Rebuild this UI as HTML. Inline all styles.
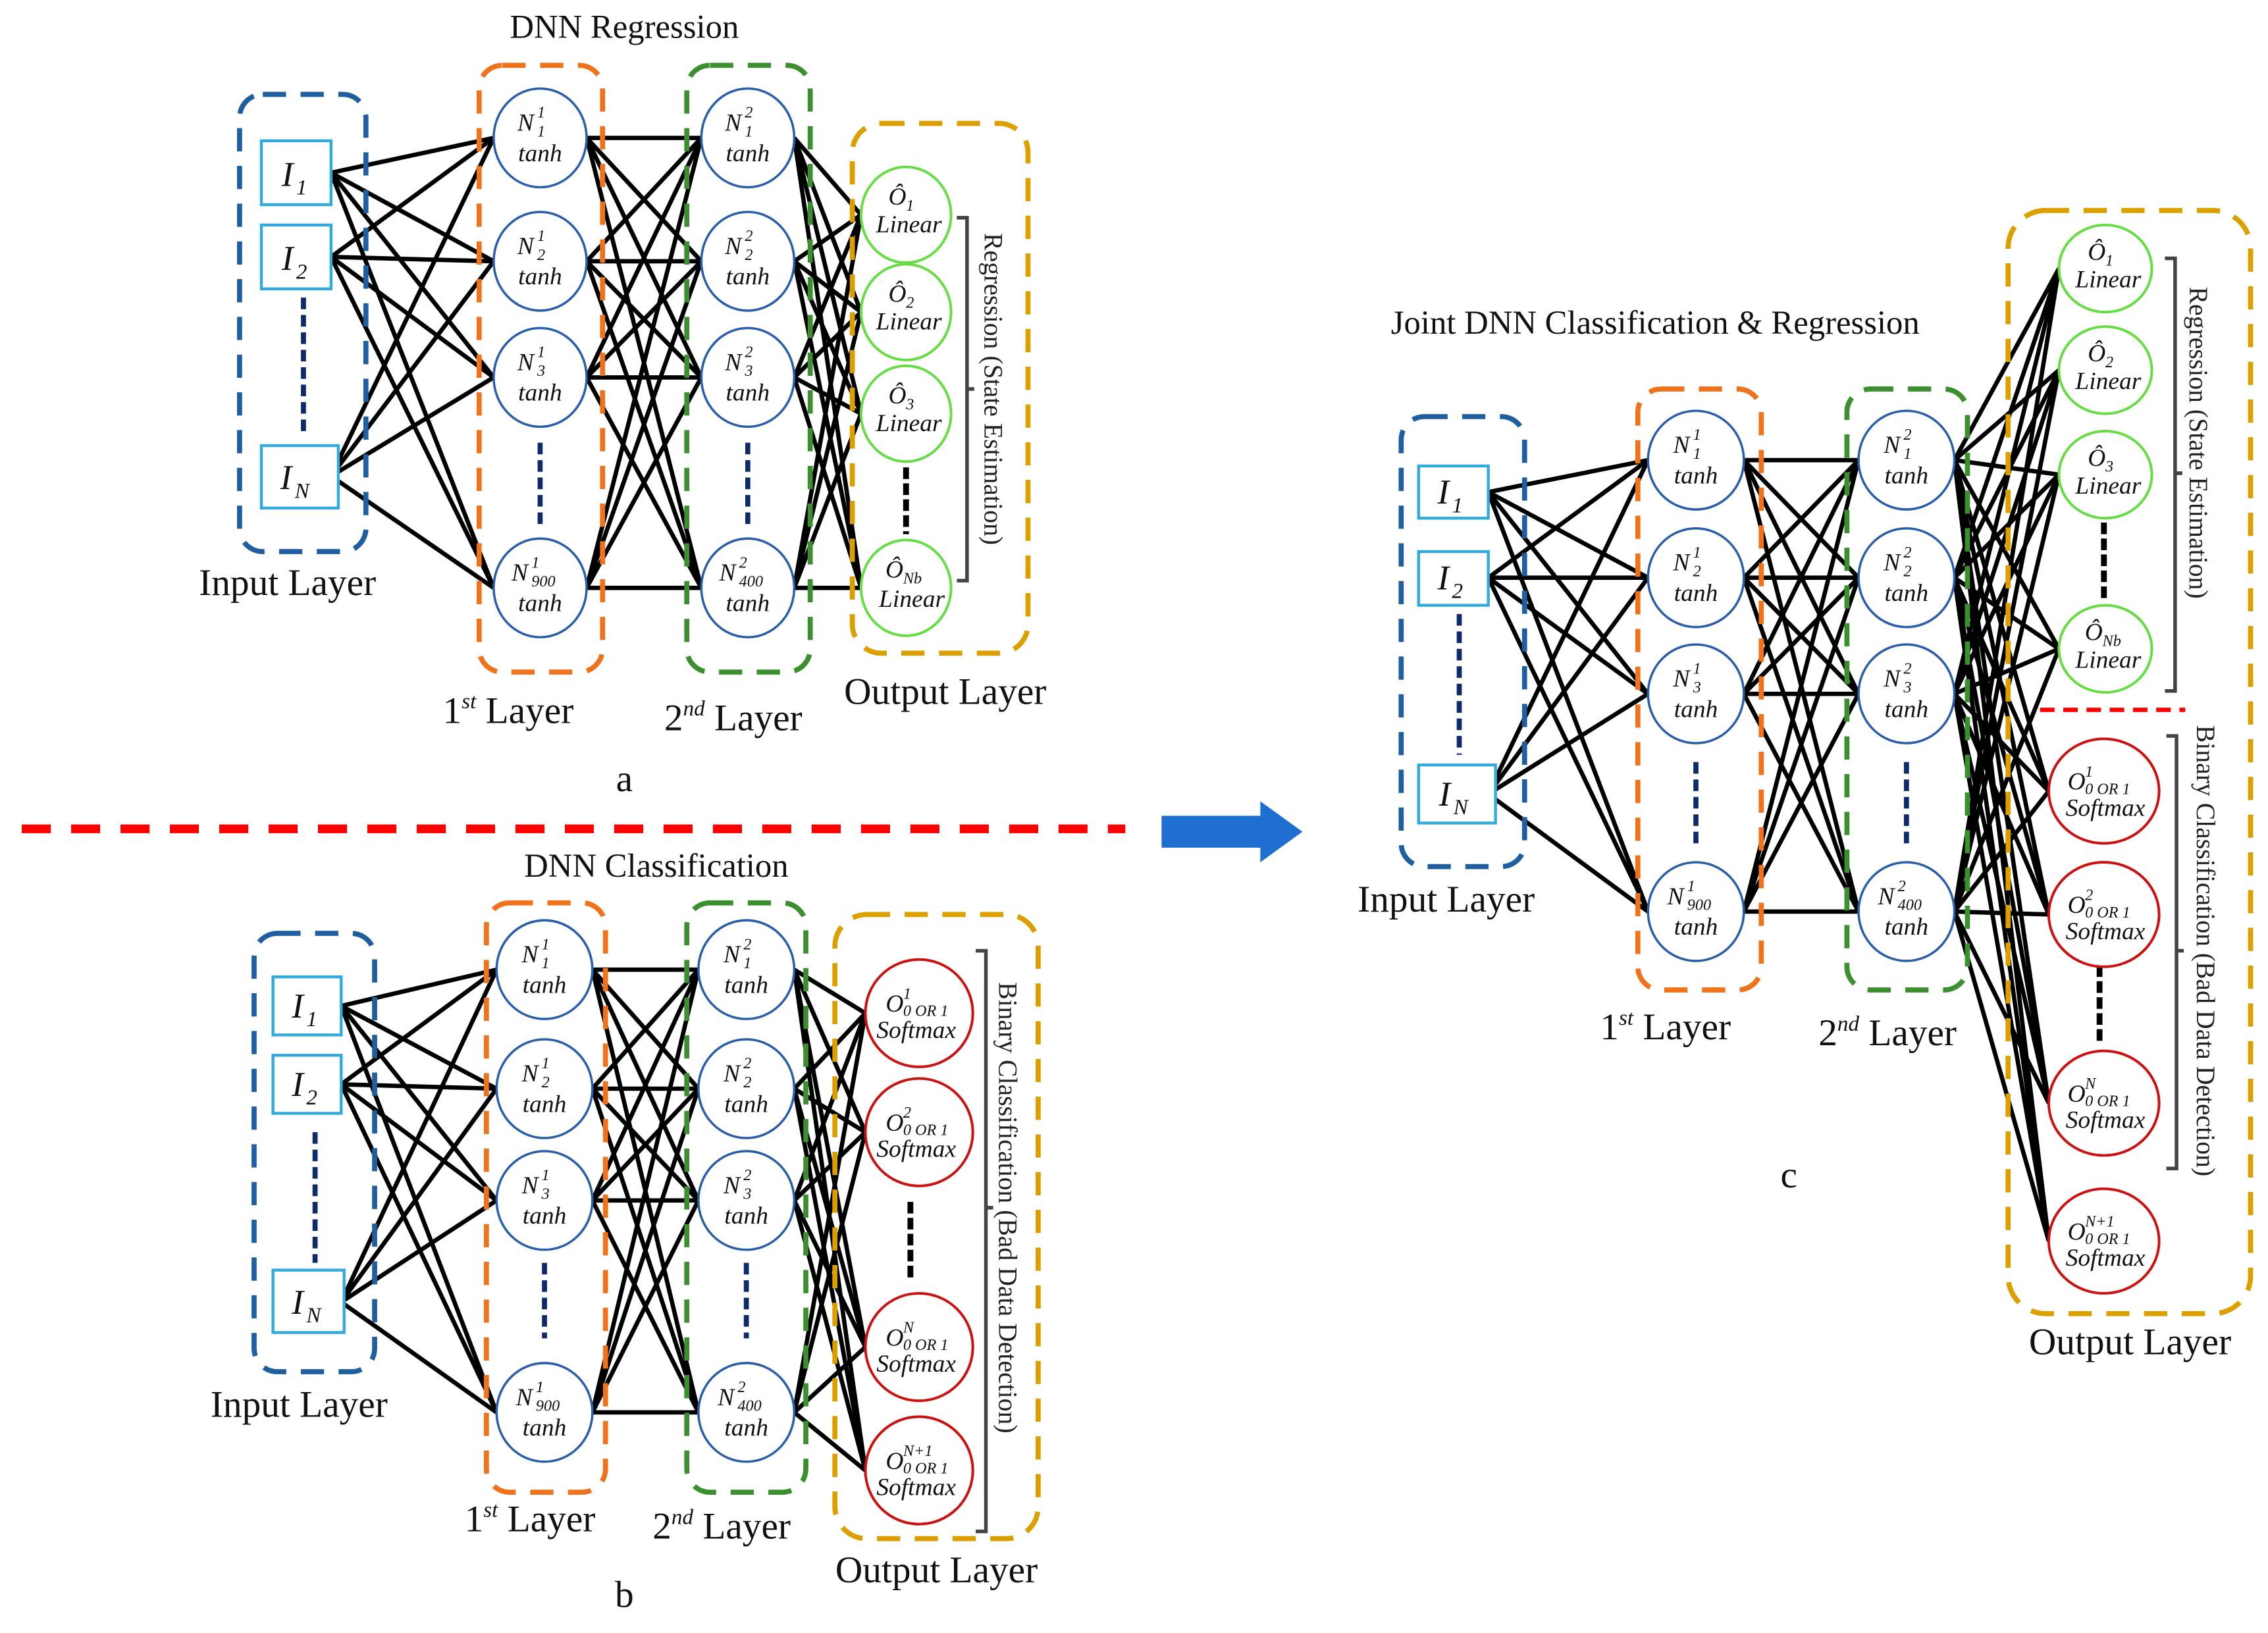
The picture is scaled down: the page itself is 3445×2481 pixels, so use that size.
<!DOCTYPE html>
<html><head><meta charset="utf-8">
<style>
html,body{margin:0;padding:0;background:#fff;}
svg{display:block;}
.t{font-family:"Liberation Serif",serif;font-style:italic;font-size:17px;fill:#111;}
.s{font-family:"Liberation Serif",serif;font-style:italic;font-size:11px;fill:#111;}
.lab{font-family:"Liberation Serif",serif;font-size:26px;fill:#111;}
.ttl{font-family:"Liberation Serif",serif;font-size:23px;fill:#111;}
.vt{font-family:"Liberation Serif",serif;font-size:18px;fill:#222;}
.hn{fill:#fff;stroke:#2b5ea8;stroke-width:1.6;}
.gn{fill:#fff;stroke:#66dd44;stroke-width:1.8;}
.rn{fill:#fff;stroke:#cc1111;stroke-width:1.8;}
.ib{fill:#fff;stroke:#33aadd;stroke-width:2;}
.it{font-family:"Liberation Serif",serif;font-style:italic;font-size:24px;fill:#111;}
.its{font-family:"Liberation Serif",serif;font-style:italic;font-size:15px;fill:#111;}
.bb{fill:none;stroke:#1f5fa0;stroke-width:3.5;stroke-dasharray:16 10;}
.ob{fill:none;stroke:#f0731c;stroke-width:3.5;stroke-dasharray:16 10;}
.gb{fill:none;stroke:#3b8f2f;stroke-width:3.5;stroke-dasharray:16 10;}
.yb{fill:none;stroke:#dba000;stroke-width:3.5;stroke-dasharray:16 10;}
.dots{stroke:#0e2a6b;stroke-width:3.5;stroke-dasharray:8 4;}
.kd{stroke:#000;stroke-width:4;stroke-dasharray:8 3;}
.br{fill:none;stroke:#444;stroke-width:2.5;}
</style></head><body>
<svg id="s" width="3445" height="2481" viewBox="0 0 1562 1125" preserveAspectRatio="none" xmlns="http://www.w3.org/2000/svg">
<g id="lines" stroke="#000" stroke-width="3" fill="none"></g>

<text class="ttl" x="430" y="26" text-anchor="middle">DNN Regression</text>
<rect class="bb" x="165" y="65" width="87" height="315" rx="16"/>
<rect class="ob" x="330" y="45" width="85" height="418" rx="16"/>
<rect class="gb" x="473" y="45" width="85" height="418" rx="16"/>
<rect class="yb" x="587" y="85" width="121" height="365" rx="20"/>
<line class="dots" x1="209" y1="205" x2="209" y2="300"/>
<line class="dots" x1="372" y1="305" x2="372" y2="362"/>
<line class="dots" x1="515" y1="305" x2="515" y2="362"/>
<line class="kd" x1="624" y1="322" x2="624" y2="368"/>
<path class="br" d="M659,150 H666 V400 H659 M666,268 H671"/>
<text class="vt" transform="translate(678,268) rotate(90)" text-anchor="middle">Regression (State Estimation)</text>

<rect class="ib" x="180" y="97" width="48" height="44"/><text class="it" x="194" y="128">I</text><text class="its" x="204" y="134">1</text>
<rect class="ib" x="180" y="155" width="48" height="44"/><text class="it" x="194" y="186">I</text><text class="its" x="204" y="192">2</text>
<rect class="ib" x="180" y="307" width="53" height="43"/><text class="it" x="193" y="337">I</text><text class="its" x="203" y="343">N</text>

<g>
<ellipse class="hn" cx="372" cy="95" rx="32" ry="34"/><text class="t" x="362" y="90" text-anchor="middle">N</text><text class="s" x="370" y="81">1</text><text class="s" x="370" y="94">1</text><text class="t" x="372" y="111" text-anchor="middle">tanh</text>
<ellipse class="hn" cx="372" cy="180" rx="32" ry="34"/><text class="t" x="362" y="175" text-anchor="middle">N</text><text class="s" x="370" y="166">1</text><text class="s" x="370" y="179">2</text><text class="t" x="372" y="196" text-anchor="middle">tanh</text>
<ellipse class="hn" cx="372" cy="260" rx="32" ry="34"/><text class="t" x="362" y="255" text-anchor="middle">N</text><text class="s" x="370" y="246">1</text><text class="s" x="370" y="259">3</text><text class="t" x="372" y="276" text-anchor="middle">tanh</text>
<ellipse class="hn" cx="372" cy="405" rx="32" ry="34"/><text class="t" x="358" y="400" text-anchor="middle">N</text><text class="s" x="366" y="391">1</text><text class="s" x="366" y="404">900</text><text class="t" x="372" y="421" text-anchor="middle">tanh</text>

<ellipse class="hn" cx="515" cy="95" rx="32" ry="34"/><text class="t" x="505" y="90" text-anchor="middle">N</text><text class="s" x="513" y="81">2</text><text class="s" x="513" y="94">1</text><text class="t" x="515" y="111" text-anchor="middle">tanh</text>
<ellipse class="hn" cx="515" cy="180" rx="32" ry="34"/><text class="t" x="505" y="175" text-anchor="middle">N</text><text class="s" x="513" y="166">2</text><text class="s" x="513" y="179">2</text><text class="t" x="515" y="196" text-anchor="middle">tanh</text>
<ellipse class="hn" cx="515" cy="260" rx="32" ry="34"/><text class="t" x="505" y="255" text-anchor="middle">N</text><text class="s" x="513" y="246">2</text><text class="s" x="513" y="259">3</text><text class="t" x="515" y="276" text-anchor="middle">tanh</text>
<ellipse class="hn" cx="515" cy="405" rx="32" ry="34"/><text class="t" x="501" y="400" text-anchor="middle">N</text><text class="s" x="509" y="391">2</text><text class="s" x="509" y="404">400</text><text class="t" x="515" y="421" text-anchor="middle">tanh</text>

<ellipse class="gn" cx="624" cy="148" rx="31" ry="33"/><text class="t" x="618" y="141" text-anchor="middle">Ô</text><text class="s" x="624" y="145">1</text><text class="t" x="626" y="160" text-anchor="middle">Linear</text>
<ellipse class="gn" cx="624" cy="215" rx="31" ry="33"/><text class="t" x="618" y="208" text-anchor="middle">Ô</text><text class="s" x="624" y="212">2</text><text class="t" x="626" y="227" text-anchor="middle">Linear</text>
<ellipse class="gn" cx="624" cy="285" rx="31" ry="33"/><text class="t" x="618" y="278" text-anchor="middle">Ô</text><text class="s" x="624" y="282">3</text><text class="t" x="626" y="297" text-anchor="middle">Linear</text>
<ellipse class="gn" cx="624" cy="405" rx="31" ry="33"/><text class="t" x="616" y="398" text-anchor="middle">Ô</text><text class="s" x="622" y="402">Nb</text><text class="t" x="628" y="418" text-anchor="middle">Linear</text>
</g>
<text class="lab" x="198" y="410" text-anchor="middle">Input Layer</text>
<text class="lab" x="350" y="498" text-anchor="middle">1<tspan font-size="15" dy="-10" font-style="italic">st</tspan><tspan dy="10"> Layer</tspan></text>
<text class="lab" x="505" y="503" text-anchor="middle">2<tspan font-size="15" dy="-10" font-style="italic">nd</tspan><tspan dy="10">  Layer</tspan></text>
<text class="lab" x="651" y="485" text-anchor="middle">Output Layer</text>
<text class="lab" x="430" y="545" text-anchor="middle">a</text>

<line x1="15" y1="571" x2="775" y2="571" stroke="#ff0000" stroke-width="6" stroke-dasharray="20 14"/>
<path d="M800,562 H868 V552 L897,573 L868,594 V584 H800 Z" fill="#1e6fcf"/>

<text class="ttl" x="452" y="604" text-anchor="middle">DNN Classification</text>
<rect class="bb" x="175" y="643" width="83" height="302" rx="16"/>
<rect class="ob" x="335" y="622" width="82" height="406" rx="16"/>
<rect class="gb" x="473" y="622" width="82" height="406" rx="16"/>
<rect class="yb" x="575" y="630" width="140" height="430" rx="22"/>
<line class="dots" x1="217" y1="780" x2="217" y2="870"/>
<line class="dots" x1="375" y1="870" x2="375" y2="922"/>
<line class="dots" x1="514" y1="870" x2="514" y2="922"/>
<line class="kd" x1="627" y1="828" x2="627" y2="882"/>
<path class="br" d="M672,655 H679 V1055 H672 M679,832 H684"/>
<text class="vt" transform="translate(688,832) rotate(90)" text-anchor="middle" font-size="16.5">Binary Classification (Bad Data Detection)</text>

<rect class="ib" x="188" y="673" width="47" height="40"/><text class="it" x="201" y="701">I</text><text class="its" x="211" y="707">1</text>
<rect class="ib" x="188" y="727" width="47" height="40"/><text class="it" x="201" y="755">I</text><text class="its" x="211" y="761">2</text>
<rect class="ib" x="188" y="875" width="49" height="43"/><text class="it" x="201" y="905">I</text><text class="its" x="211" y="911">N</text>

<g>
<ellipse class="hn" cx="375" cy="668" rx="33" ry="34"/><text class="t" x="365" y="663" text-anchor="middle">N</text><text class="s" x="373" y="654">1</text><text class="s" x="373" y="667">1</text><text class="t" x="375" y="684" text-anchor="middle">tanh</text>
<ellipse class="hn" cx="375" cy="750" rx="33" ry="34"/><text class="t" x="365" y="745" text-anchor="middle">N</text><text class="s" x="373" y="736">1</text><text class="s" x="373" y="749">2</text><text class="t" x="375" y="766" text-anchor="middle">tanh</text>
<ellipse class="hn" cx="375" cy="827" rx="33" ry="34"/><text class="t" x="365" y="822" text-anchor="middle">N</text><text class="s" x="373" y="813">1</text><text class="s" x="373" y="826">3</text><text class="t" x="375" y="843" text-anchor="middle">tanh</text>
<ellipse class="hn" cx="375" cy="973" rx="33" ry="34"/><text class="t" x="361" y="968" text-anchor="middle">N</text><text class="s" x="369" y="959">1</text><text class="s" x="369" y="972">900</text><text class="t" x="375" y="989" text-anchor="middle">tanh</text>

<ellipse class="hn" cx="514" cy="668" rx="33" ry="34"/><text class="t" x="504" y="663" text-anchor="middle">N</text><text class="s" x="512" y="654">2</text><text class="s" x="512" y="667">1</text><text class="t" x="514" y="684" text-anchor="middle">tanh</text>
<ellipse class="hn" cx="514" cy="750" rx="33" ry="34"/><text class="t" x="504" y="745" text-anchor="middle">N</text><text class="s" x="512" y="736">2</text><text class="s" x="512" y="749">2</text><text class="t" x="514" y="766" text-anchor="middle">tanh</text>
<ellipse class="hn" cx="514" cy="827" rx="33" ry="34"/><text class="t" x="504" y="822" text-anchor="middle">N</text><text class="s" x="512" y="813">2</text><text class="s" x="512" y="826">3</text><text class="t" x="514" y="843" text-anchor="middle">tanh</text>
<ellipse class="hn" cx="514" cy="973" rx="33" ry="34"/><text class="t" x="500" y="968" text-anchor="middle">N</text><text class="s" x="508" y="959">2</text><text class="s" x="508" y="972">400</text><text class="t" x="514" y="989" text-anchor="middle">tanh</text>

<ellipse class="rn" cx="633" cy="698" rx="37" ry="37"/><text class="t" x="610" y="697">O</text><text class="s" x="622" y="688">1</text><text class="s" x="622" y="700" font-size="8.5">0 OR 1</text><text class="t" x="631" y="715" text-anchor="middle">Softmax</text>
<ellipse class="rn" cx="633" cy="780" rx="37" ry="37"/><text class="t" x="610" y="779">O</text><text class="s" x="622" y="770">2</text><text class="s" x="622" y="782" font-size="8.5">0 OR 1</text><text class="t" x="631" y="797" text-anchor="middle">Softmax</text>
<ellipse class="rn" cx="633" cy="928" rx="37" ry="37"/><text class="t" x="610" y="927">O</text><text class="s" x="622" y="918">N</text><text class="s" x="622" y="930" font-size="8.5">0 OR 1</text><text class="t" x="631" y="945" text-anchor="middle">Softmax</text>
<ellipse class="rn" cx="633" cy="1013" rx="37" ry="37"/><text class="t" x="610" y="1012">O</text><text class="s" x="622" y="1003">N+1</text><text class="s" x="622" y="1015" font-size="8.5">0 OR 1</text><text class="t" x="631" y="1030" text-anchor="middle">Softmax</text>
</g>
<text class="lab" x="206" y="976" text-anchor="middle">Input Layer</text>
<text class="lab" x="365" y="1055" text-anchor="middle">1<tspan font-size="15" dy="-10" font-style="italic">st</tspan><tspan dy="10"> Layer</tspan></text>
<text class="lab" x="497" y="1060" text-anchor="middle">2<tspan font-size="15" dy="-10" font-style="italic">nd</tspan><tspan dy="10">  Layer</tspan></text>
<text class="lab" x="645" y="1090" text-anchor="middle">Output Layer</text>
<text class="lab" x="430" y="1107" text-anchor="middle">b</text>

<text class="ttl" x="1140" y="230" text-anchor="middle" font-size="24">Joint DNN Classification &amp; Regression</text>
<rect class="bb" x="965" y="287" width="85" height="310" rx="16"/>
<rect class="ob" x="1128" y="268" width="85" height="414" rx="16"/>
<rect class="gb" x="1272" y="268" width="83" height="414" rx="16"/>
<rect class="yb" x="1383" y="145" width="167" height="760" rx="26"/>
<line class="dots" x1="1005" y1="423" x2="1005" y2="520"/>
<line class="dots" x1="1168" y1="525" x2="1168" y2="582"/>
<line class="dots" x1="1313" y1="525" x2="1313" y2="582"/>
<line class="kd" x1="1449" y1="360" x2="1449" y2="412"/>
<line class="kd" x1="1446" y1="665" x2="1446" y2="718"/>
<line x1="1405" y1="489" x2="1505" y2="489" stroke="#ff0000" stroke-width="3" stroke-dasharray="10 6"/>
<path class="br" d="M1491,178 H1498 V476 H1491 M1498,326 H1503"/>
<path class="br" d="M1492,507 H1499 V805 H1492 M1499,655 H1504"/>
<text class="vt" transform="translate(1508,305) rotate(90)" text-anchor="middle" font-size="16">Regression (State Estimation)</text>
<text class="vt" transform="translate(1513,655) rotate(90)" text-anchor="middle" font-size="16">Binary Classification (Bad Data Detection)</text>

<rect class="ib" x="977" y="321" width="48" height="36"/><text class="it" x="990" y="347">I</text><text class="its" x="1000" y="353">1</text>
<rect class="ib" x="977" y="380" width="48" height="37"/><text class="it" x="990" y="406">I</text><text class="its" x="1000" y="412">2</text>
<rect class="ib" x="977" y="527" width="53" height="40"/><text class="it" x="991" y="555">I</text><text class="its" x="1001" y="561">N</text>

<g>
<ellipse class="hn" cx="1168" cy="317" rx="33" ry="34"/><text class="t" x="1158" y="312" text-anchor="middle">N</text><text class="s" x="1166" y="303">1</text><text class="s" x="1166" y="316">1</text><text class="t" x="1168" y="333" text-anchor="middle">tanh</text>
<ellipse class="hn" cx="1168" cy="398" rx="33" ry="34"/><text class="t" x="1158" y="393" text-anchor="middle">N</text><text class="s" x="1166" y="384">1</text><text class="s" x="1166" y="397">2</text><text class="t" x="1168" y="414" text-anchor="middle">tanh</text>
<ellipse class="hn" cx="1168" cy="478" rx="33" ry="34"/><text class="t" x="1158" y="473" text-anchor="middle">N</text><text class="s" x="1166" y="464">1</text><text class="s" x="1166" y="477">3</text><text class="t" x="1168" y="494" text-anchor="middle">tanh</text>
<ellipse class="hn" cx="1168" cy="628" rx="33" ry="34"/><text class="t" x="1154" y="623" text-anchor="middle">N</text><text class="s" x="1162" y="614">1</text><text class="s" x="1162" y="627">900</text><text class="t" x="1168" y="644" text-anchor="middle">tanh</text>

<ellipse class="hn" cx="1313" cy="317" rx="33" ry="34"/><text class="t" x="1303" y="312" text-anchor="middle">N</text><text class="s" x="1311" y="303">2</text><text class="s" x="1311" y="316">1</text><text class="t" x="1313" y="333" text-anchor="middle">tanh</text>
<ellipse class="hn" cx="1313" cy="398" rx="33" ry="34"/><text class="t" x="1303" y="393" text-anchor="middle">N</text><text class="s" x="1311" y="384">2</text><text class="s" x="1311" y="397">2</text><text class="t" x="1313" y="414" text-anchor="middle">tanh</text>
<ellipse class="hn" cx="1313" cy="478" rx="33" ry="34"/><text class="t" x="1303" y="473" text-anchor="middle">N</text><text class="s" x="1311" y="464">2</text><text class="s" x="1311" y="477">3</text><text class="t" x="1313" y="494" text-anchor="middle">tanh</text>
<ellipse class="hn" cx="1313" cy="628" rx="33" ry="34"/><text class="t" x="1299" y="623" text-anchor="middle">N</text><text class="s" x="1307" y="614">2</text><text class="s" x="1307" y="627">400</text><text class="t" x="1313" y="644" text-anchor="middle">tanh</text>

<ellipse class="gn" cx="1450" cy="185" rx="32" ry="30"/><text class="t" x="1444" y="179" text-anchor="middle">Ô</text><text class="s" x="1450" y="183">1</text><text class="t" x="1452" y="198" text-anchor="middle">Linear</text>
<ellipse class="gn" cx="1450" cy="255" rx="32" ry="30"/><text class="t" x="1444" y="249" text-anchor="middle">Ô</text><text class="s" x="1450" y="253">2</text><text class="t" x="1452" y="268" text-anchor="middle">Linear</text>
<ellipse class="gn" cx="1450" cy="327" rx="32" ry="30"/><text class="t" x="1444" y="321" text-anchor="middle">Ô</text><text class="s" x="1450" y="325">3</text><text class="t" x="1452" y="340" text-anchor="middle">Linear</text>
<ellipse class="gn" cx="1450" cy="447" rx="32" ry="30"/><text class="t" x="1442" y="441" text-anchor="middle">Ô</text><text class="s" x="1448" y="445">Nb</text><text class="t" x="1452" y="460" text-anchor="middle">Linear</text>

<ellipse class="rn" cx="1449" cy="545" rx="38" ry="36"/><text class="t" x="1424" y="544">O</text><text class="s" x="1436" y="535">1</text><text class="s" x="1436" y="547" font-size="8.5">0 OR 1</text><text class="t" x="1450" y="562" text-anchor="middle">Softmax</text>
<ellipse class="rn" cx="1449" cy="630" rx="38" ry="36"/><text class="t" x="1424" y="629">O</text><text class="s" x="1436" y="620">2</text><text class="s" x="1436" y="632" font-size="8.5">0 OR 1</text><text class="t" x="1450" y="647" text-anchor="middle">Softmax</text>
<ellipse class="rn" cx="1449" cy="760" rx="38" ry="36"/><text class="t" x="1424" y="759">O</text><text class="s" x="1436" y="750">N</text><text class="s" x="1436" y="762" font-size="8.5">0 OR 1</text><text class="t" x="1450" y="777" text-anchor="middle">Softmax</text>
<ellipse class="rn" cx="1449" cy="855" rx="38" ry="36"/><text class="t" x="1424" y="854">O</text><text class="s" x="1436" y="845">N+1</text><text class="s" x="1436" y="857" font-size="8.5">0 OR 1</text><text class="t" x="1450" y="872" text-anchor="middle">Softmax</text>
</g>
<text class="lab" x="996" y="628" text-anchor="middle">Input Layer</text>
<text class="lab" x="1147" y="716" text-anchor="middle">1<tspan font-size="15" dy="-10" font-style="italic">st</tspan><tspan dy="10"> Layer</tspan></text>
<text class="lab" x="1300" y="720" text-anchor="middle">2<tspan font-size="15" dy="-10" font-style="italic">nd</tspan><tspan dy="10">  Layer</tspan></text>
<text class="lab" x="1232" y="818" text-anchor="middle">c</text>
<text class="lab" x="1467" y="933" text-anchor="middle">Output Layer</text>
</svg>
<script>
(function(){
var g=document.getElementById('lines'),ns='http://www.w3.org/2000/svg';
function conn(ax,ays,bx,bys){ays.forEach(function(a){bys.forEach(function(b){var l=document.createElementNS(ns,'line');l.setAttribute('x1',ax);l.setAttribute('y1',a);l.setAttribute('x2',bx);l.setAttribute('y2',b);g.appendChild(l);});});}
conn(228,[119,177,328],340,[95,180,260,405]);
conn(404,[95,180,260,405],483,[95,180,260,405]);
conn(547,[95,180,260,405],593,[148,215,285,405]);
conn(235,[693,747,897],342,[668,750,827,973]);
conn(408,[668,750,827,973],481,[668,750,827,973]);
conn(547,[668,750,827,973],596,[698,780,928,1013]);
conn(1025,[339,398,547],1135,[317,398,478,628]);
conn(1201,[317,398,478,628],1280,[317,398,478,628]);
conn(1346,[317,398,478,628],1418,[185,255,327,447]);
conn(1346,[317,398,478,628],1411,[545,630,760,855]);
})();
</script>
</body></html>
